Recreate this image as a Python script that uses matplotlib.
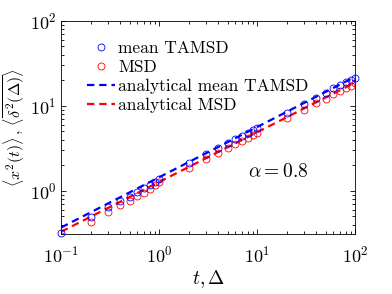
import numpy as np
import matplotlib
matplotlib.use("Agg")
import matplotlib.pyplot as plt

plt.rcParams["font.family"] = "serif"
plt.rcParams["font.serif"] = ["cmr10"]
plt.rcParams["mathtext.fontset"] = "cm"
plt.rcParams["axes.formatter.use_mathtext"] = True

# --- data --- #
t = [0.1, 0.2, 0.3, 0.4, 0.5, 0.6, 0.7, 0.8, 0.9,
     1, 2, 3, 4, 5, 6, 7, 8, 9,
     10, 20, 30, 40, 50, 60, 70, 80, 90, 100]

tamsd = [0.32, 0.49, 0.65, 0.76, 0.85, 0.97, 1.08, 1.18, 1.28,
         1.38, 2.10, 2.68, 3.18, 3.64, 4.05, 4.45, 4.82, 5.18,
         5.50, 8.30, 10.6, 12.5, 14.3, 16.0, 17.5, 18.9, 20.2, 21.3]

msd = [0.29, 0.43, 0.57, 0.68, 0.76, 0.87, 0.95, 1.05, 1.18,
       1.28, 1.88, 2.38, 2.82, 3.20, 3.56, 3.90, 4.22, 4.52,
       4.80, 7.15, 9.05, 10.7, 12.2, 13.6, 14.9, 16.1, 17.3, 18.6]

# analytical curves are straight in log-log: end points only
t_line = [0.1, 100]
tamsd_line = [0.37, 22.0]
msd_line = [0.33, 18.8]

legend_labels = ["mean TAMSD", "MSD", "analytical mean TAMSD", "analytical MSD"]
alpha_label = r"$\alpha = 0.8$"


fig = plt.figure(figsize=(3.92, 2.94), dpi=100)
ax = fig.add_axes([0.156, 0.204, 0.75, 0.725])

ax.plot(t, tamsd, "o", color="#0000ff", mfc="none", ms=5, mew=0.6,
        label=legend_labels[0], clip_on=False, zorder=3)
ax.plot(t, msd, "o", color="#ff0000", mfc="none", ms=5, mew=0.6,
        label=legend_labels[1])
ax.plot(t_line, tamsd_line, "--", color="#0000ff", lw=1.6, dashes=(3.3, 2.2),
        label=legend_labels[2])
ax.plot(t_line, msd_line, "--", color="#ff0000", lw=1.6, dashes=(3.3, 2.2),
        label=legend_labels[3])

ax.set_xscale("log")
ax.set_yscale("log")
ax.set_xlim(0.1, 100)
ax.set_ylim(0.31, 100)

ax.tick_params(which="both", direction="in", top=True, right=True,
               labelsize=13, width=0.6)
ax.tick_params(which="major", length=3.5)
ax.tick_params(which="minor", length=2)
ax.tick_params(axis="x", pad=8)
for s in ax.spines.values():
    s.set_linewidth(0.6)

ax.set_xlabel(r"$t, \Delta$", fontsize=14, labelpad=2)
ax.set_ylabel(r"$\langle x^2(t)\rangle\,,\,\langle\overline{\delta^2(\Delta)}\rangle$",
              fontsize=11.5)
ax.yaxis.set_label_coords(-0.115, 0.5)

ax.text(0.635, 0.29, alpha_label, transform=ax.transAxes, fontsize=14,
        va="center", ha="left")

ax.legend(loc="upper left", bbox_to_anchor=(0.065, 0.94), frameon=False,
          fontsize=12.5, handlelength=1.6, handletextpad=0.2,
          labelspacing=0.22, borderaxespad=0)

fig.savefig("out.png", dpi=100)
